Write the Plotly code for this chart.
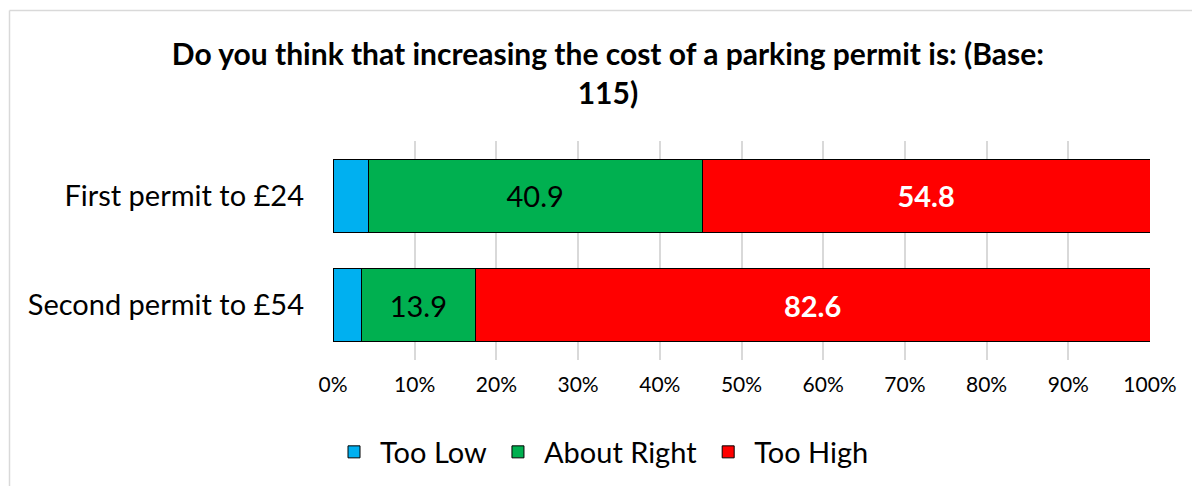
import plotly.graph_objects as go

# Survey responses (% of base 115)
categories = ["First permit to £24", "Second permit to £54"]
too_low = [4.3, 3.5]
about_right = [40.9, 13.9]
too_high = [54.8, 82.6]
x_ticks = [0, 10, 20, 30, 40, 50, 60, 70, 80, 90, 100]
x_tick_labels = [f"{v}%" for v in x_ticks]

W, H = 1192, 486
L, R, T, B = 333, 42, 141, 126
FONT = "Lato"


def px_x(px):
    return (px - L) / (W - L - R)


def px_y(py):
    return (H - B - py) / (H - T - B)


fig = go.Figure()
fig.add_trace(go.Bar(
    y=categories, x=too_low, name="Too Low", orientation="h",
    marker=dict(color="#00B0F0", line=dict(color="#000000", width=1)),
))
fig.add_trace(go.Bar(
    y=categories, x=about_right, name="About Right", orientation="h",
    marker=dict(color="#00B050", line=dict(color="#000000", width=1)),
    text=[f"{v:.1f}" for v in about_right], textposition="inside",
    insidetextanchor="middle",
    textfont=dict(family=FONT, size=29, color="#000000"),
))
fig.add_trace(go.Bar(
    y=categories, x=too_high, name="Too High", orientation="h",
    marker=dict(color="#FF0000", line=dict(color="#000000", width=1)),
    text=[f"<b>{v:.1f}</b>" for v in too_high], textposition="inside",
    insidetextanchor="middle",
    textfont=dict(family=FONT, size=29, color="#FFFFFF"),
))

fig.update_layout(
    width=W, height=H,
    margin=dict(l=L, r=R, t=T, b=B, pad=0, autoexpand=False),
    barmode="stack", bargap=0.33,
    paper_bgcolor="#FFFFFF", plot_bgcolor="#FFFFFF",
    font=dict(family=FONT, color="#000000"),
    title=dict(
        text="<b>Do you think that increasing the cost of a parking permit is: (Base:<br>115)</b>",
        x=0.51, xanchor="center", yref="container", y=1 - 65 / H, yanchor="top",
        font=dict(family=FONT, size=30, color="#000000"),
    ),
    xaxis=dict(
        range=[0, 100], tickmode="array", tickvals=x_ticks, ticktext=x_tick_labels,
        showgrid=True, gridcolor="#D9D9D9", gridwidth=2,
        zeroline=False, showline=False, ticks="",
        tickfont=dict(family=FONT, size=21, color="#000000"),
        ticklabelstandoff=10, fixedrange=True, automargin=False,
    ),
    yaxis=dict(
        categoryorder="array", categoryarray=categories, autorange="reversed",
        showgrid=False, zeroline=False, showline=False, ticks="",
        tickfont=dict(family=FONT, size=29, color="#000000"),
        ticklabelstandoff=28, fixedrange=True, automargin=False,
    ),
    legend=dict(
        orientation="h", xref="container", x=601 / W, xanchor="center",
        yref="container", y=1 - 452 / H, yanchor="middle",
        font=dict(family=FONT, size=29, color="#000000"),
        traceorder="normal", itemwidth=42,
    ),
    showlegend=True,
)

# Light grey frame edges (top and left) around the chart area
frame = dict(color="#D9D9D9", width=1.5)
fig.add_shape(type="line", xref="paper", yref="paper",
              x0=px_x(9.5), x1=px_x(1192), y0=px_y(10.5), y1=px_y(10.5), line=frame, layer="below")
fig.add_shape(type="line", xref="paper", yref="paper",
              x0=px_x(9.5), x1=px_x(9.5), y0=px_y(10.5), y1=px_y(486), line=frame, layer="below")

fig.write_html("out.html")
